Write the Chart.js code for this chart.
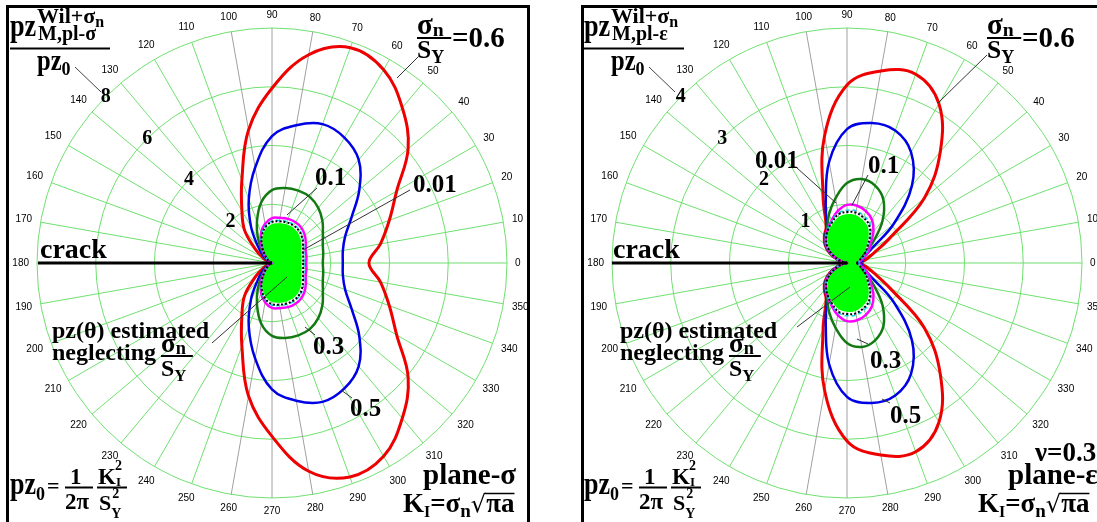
<!DOCTYPE html>
<html>
<head>
<meta charset="utf-8">
<script src="https://cdn.jsdelivr.net/npm/chart.js@4/dist/chart.umd.min.js"></script>
<style>
  html, body { margin: 0; padding: 0; background: #fff; overflow: hidden; }
  body { width: 1097px; height: 522px; position: relative; }
  .frame { position: absolute; top: 5px; height: 600px; border: 3px solid #000; box-sizing: border-box; }
  .box { position: absolute; top: 0; width: 548px; height: 522px; }
</style>
</head>
<body>
<div class="frame" style="left:6px;width:524px"></div>
<div class="frame" style="left:581px;width:600px"></div>
<div class="box" style="left:0"><canvas id="planeSigma"></canvas></div>
<div class="box" style="left:549px"><canvas id="planeEps"></canvas></div>
<script>
// polar angles (deg, counter-clockwise from the crack tip direction)
const angleTicks = [0, 10, 20, 30, 40, 50, 60, 70, 80, 90, 100, 110, 120, 130, 140, 150, 160, 170,
  180, 190, 200, 210, 220, 230, 240, 250, 260, 270, 280, 290, 300, 310, 320, 330, 340, 350];

// plane stress, pz / pz0 for sigma_n / S_Y
const sigTicks = [2, 4, 6, 8];
const sig06 = [3.3, 3.75, 4.25, 4.9, 6.05, 6.9, 7.6, 7.8, 7.2, 5.95, 4.6, 3.0, 2.05, 1.45, 0.75, 0.35, 0.15, 0.05,
  0, 0.05, 0.15, 0.35, 0.75, 1.45, 2.05, 3.0, 4.6, 5.9, 7.2, 7.75, 7.6, 6.9, 6.05, 4.9, 4.25, 3.75];
const sig05 = [2.41, 2.45, 2.65, 3.13, 3.88, 4.59, 4.93, 5.03, 4.76, 4.32, 3.3, 2.31, 1.43, 0.75, 0.41, 0.2, 0.1, 0.03,
  0, 0.03, 0.1, 0.2, 0.41, 0.75, 1.43, 2.31, 3.3, 4.3, 4.76, 5.03, 4.93, 4.59, 3.88, 3.13, 2.65, 2.45];
const sig03 = [1.73, 1.77, 1.84, 2.0, 2.24, 2.45, 2.59, 2.62, 2.59, 2.48, 2.1, 1.5, 0.95, 0.51, 0.27, 0.14, 0.07, 0.03,
  0, 0.03, 0.07, 0.14, 0.27, 0.51, 0.95, 1.5, 2.1, 2.48, 2.59, 2.62, 2.59, 2.45, 2.24, 2.0, 1.84, 1.77];
const sig01 = [1.16, 1.19, 1.22, 1.33, 1.46, 1.56, 1.6, 1.6, 1.56, 1.53, 1.36, 1.09, 0.75, 0.44, 0.24, 0.14, 0.07, 0.03,
  0, 0.03, 0.07, 0.14, 0.24, 0.44, 0.75, 1.09, 1.36, 1.53, 1.56, 1.6, 1.6, 1.56, 1.46, 1.33, 1.22, 1.19];
const sigCyan = [1.09, 1.11, 1.15, 1.25, 1.37, 1.46, 1.5, 1.5, 1.47, 1.43, 1.28, 1.03, 0.72, 0.42, 0.23, 0.13, 0.06, 0.02,
  0, 0.02, 0.06, 0.13, 0.23, 0.42, 0.72, 1.03, 1.28, 1.43, 1.47, 1.5, 1.5, 1.46, 1.37, 1.25, 1.15, 1.11];
const sig001 = [1.06, 1.08, 1.12, 1.22, 1.34, 1.43, 1.47, 1.47, 1.44, 1.4, 1.25, 1.0, 0.69, 0.4, 0.22, 0.12, 0.06, 0.02,
  0, 0.02, 0.06, 0.12, 0.22, 0.4, 0.69, 1.0, 1.25, 1.4, 1.44, 1.47, 1.47, 1.43, 1.34, 1.22, 1.12, 1.08];
const sigNeglect = [1.0, 1.02, 1.06, 1.15, 1.27, 1.36, 1.4, 1.4, 1.37, 1.33, 1.18, 0.94, 0.64, 0.37, 0.2, 0.11, 0.05, 0.02,
  0, 0.02, 0.05, 0.11, 0.2, 0.37, 0.64, 0.94, 1.18, 1.33, 1.37, 1.4, 1.4, 1.36, 1.27, 1.15, 1.06, 1.02];

// plane strain (nu = 0.3)
const epsTicks = [1, 2, 3, 4];
const eps06 = [0.25, 0.32, 0.48, 0.83, 1.72, 2.47, 3.13, 3.42, 3.32, 3.03, 2.2, 1.19, 0.71, 0.6, 0.49, 0.34, 0.17, 0.07,
  0, 0.07, 0.17, 0.34, 0.49, 0.6, 0.71, 1.19, 2.2, 3.03, 3.32, 3.42, 3.13, 2.47, 1.72, 0.83, 0.48, 0.32];
const eps05 = [0.24, 0.27, 0.32, 0.48, 1.04, 1.72, 2.18, 2.4, 2.42, 2.28, 1.75, 1.06, 0.69, 0.58, 0.48, 0.33, 0.17, 0.07,
  0, 0.07, 0.17, 0.33, 0.48, 0.58, 0.69, 1.06, 1.75, 2.28, 2.42, 2.4, 2.18, 1.72, 1.04, 0.48, 0.32, 0.27];
const eps03 = [0.2, 0.22, 0.27, 0.37, 0.6, 0.94, 1.24, 1.4, 1.45, 1.36, 1.12, 0.89, 0.68, 0.57, 0.47, 0.32, 0.17, 0.07,
  0, 0.07, 0.17, 0.32, 0.47, 0.57, 0.68, 0.89, 1.12, 1.36, 1.45, 1.4, 1.24, 0.94, 0.6, 0.37, 0.27, 0.22];
const eps01 = [0.2, 0.24, 0.32, 0.43, 0.53, 0.7, 0.85, 0.94, 0.99, 0.99, 0.9, 0.77, 0.66, 0.56, 0.46, 0.31, 0.16, 0.06,
  0, 0.06, 0.16, 0.31, 0.46, 0.56, 0.66, 0.77, 0.9, 0.99, 0.99, 0.94, 0.85, 0.7, 0.53, 0.43, 0.32, 0.24];
const epsCyan = [0.19, 0.22, 0.29, 0.39, 0.49, 0.64, 0.78, 0.85, 0.9, 0.9, 0.86, 0.76, 0.66, 0.56, 0.45, 0.3, 0.16, 0.06,
  0, 0.06, 0.16, 0.3, 0.45, 0.56, 0.66, 0.76, 0.86, 0.9, 0.9, 0.85, 0.78, 0.64, 0.49, 0.39, 0.29, 0.22];
const eps001 = [0.17, 0.2, 0.27, 0.36, 0.46, 0.61, 0.75, 0.82, 0.87, 0.87, 0.84, 0.74, 0.65, 0.55, 0.44, 0.29, 0.15, 0.06,
  0, 0.06, 0.15, 0.29, 0.44, 0.55, 0.65, 0.74, 0.84, 0.87, 0.87, 0.82, 0.75, 0.61, 0.46, 0.36, 0.27, 0.2];
const epsNeglect = [0.15, 0.18, 0.24, 0.33, 0.43, 0.57, 0.71, 0.78, 0.83, 0.83, 0.8, 0.71, 0.63, 0.52, 0.41, 0.27, 0.14, 0.05,
  0, 0.05, 0.14, 0.27, 0.41, 0.52, 0.63, 0.71, 0.8, 0.83, 0.83, 0.78, 0.71, 0.57, 0.43, 0.33, 0.24, 0.18];

const SERIF = '"Liberation Serif", "DejaVu Serif", serif';
const SANS = '"Liberation Sans", Arial, sans-serif';
const GRID = '#6fe06f';
const GREY = '#a0a0a0';

// radar runs clockwise, the plot runs counter-clockwise
const cw = arr => arr.map((_, k) => arr[(arr.length - k) % arr.length]);

function put(ctx, s, x, y, size, o = {}) {
  ctx.save();
  ctx.font = `${o.normal ? '' : 'bold '}${size}px ${o.family || SERIF}`;
  ctx.textAlign = 'left';
  ctx.textBaseline = 'alphabetic';
  ctx.fillStyle = '#000';
  ctx.translate(x, y);
  if (o.sx) ctx.scale(o.sx, 1);
  ctx.fillText(s, 0, 0);
  const w = ctx.measureText(s).width * (o.sx || 1);
  ctx.restore();
  return x + w;
}

function rule(ctx, x1, y1, x2, y2, w, c) {
  ctx.save();
  ctx.beginPath();
  ctx.lineWidth = w;
  ctx.strokeStyle = c || '#000';
  ctx.moveTo(x1, y1);
  ctx.lineTo(x2, y2);
  ctx.stroke();
  ctx.restore();
}

// sigma_n / S_Y stacked fraction
function ratio(ctx, x, y, big) {
  let e = put(ctx, 'σ', x, y, big);
  put(ctx, 'n', e, y + 2, big * 0.68);
  rule(ctx, x, y + 4, x + big * 1.18, y + 4, 2);
  e = put(ctx, 'S', x, y + 24, big * 0.88);
  put(ctx, 'Y', e, y + 29, big * 0.62);
}

function panelText(ctx, eps) {
  const tx = eps ? 574 : 0;
  // axis title
  let x = put(ctx, 'pz', 10 + tx, 36, 32, { sx: 0.82 });
  x = put(ctx, 'Wil+σ', 37 + tx, 23, 22);
  put(ctx, 'n', x, 27, 16);
  put(ctx, eps ? 'M,pl-ε' : 'M,pl-σ', 38 + tx, 40, 20);
  rule(ctx, 10 + tx, 48.5, 110 + tx, 48.5, 2);
  x = put(ctx, 'pz', 37 + tx, 70, 30, { sx: 0.82 });
  put(ctx, '0', x, 75, 18);
  rule(ctx, 75 + tx, 67, 101 + tx, 92, 1, '#444');

  // pz0 definition
  x = put(ctx, 'pz', 10 + tx, 494, 31, { sx: 0.84 });
  x = put(ctx, '0', x, 500, 18);
  put(ctx, '=', x + 2, 493, 22);
  put(ctx, '1', 70 + tx, 484, 23);
  rule(ctx, 65 + tx, 487.5, 93 + tx, 487.5, 2);
  put(ctx, '2π', 65 + tx, 509, 23);
  x = put(ctx, 'K', 98 + tx, 484, 23);
  put(ctx, 'I', x, 486, 13);
  put(ctx, '2', x - 1, 470, 14);
  rule(ctx, 97 + tx, 487.5, 127 + tx, 487.5, 2);
  x = put(ctx, 'S', 99 + tx, 510, 22);
  put(ctx, 'Y', x, 518, 14);
  put(ctx, '2', x + 1, 498, 14);

  // sigma_n/S_Y = 0.6
  const rx = eps ? 987 : 417;
  ratio(ctx, rx, 34, 29);
  put(ctx, '=0.6', rx + 35, 47, 29);

  // crack
  put(ctx, 'crack', eps ? 613 : 40, 258, 28);

  // neglecting label
  const nx = eps ? 620 : 52;
  put(ctx, 'pz(θ) estimated', nx, 338, 24);
  x = put(ctx, 'neglecting', nx, 360, 24);
  ratio(ctx, x + 5, 352, 27);

  // load case
  const bx = eps ? 978 : 403;
  if (eps) put(ctx, 'ν=0.3', 1035, 461, 27);
  put(ctx, eps ? 'plane-ε' : 'plane-σ', eps ? 1008 : 423, 484, 29);
  x = put(ctx, 'K', bx, 512, 27);
  x = put(ctx, 'I', x, 517, 16);
  x = put(ctx, '=σ', x, 512, 27);
  x = put(ctx, 'n', x, 517, 19);
  x = put(ctx, '√', x, 512, 24, { normal: true, family: '"DejaVu Sans", sans-serif' });
  const e = put(ctx, 'πa', x, 512, 27);
  rule(ctx, x - 1, 493.5, e, 493.5, 1.5);

  // curve tags and leaders
  const tags = eps ? [
    ['0.01', 755, 168, 797, 168, 836, 203],
    ['0.1', 868, 173, 868, 175, 852, 205],
    ['0.3', 870, 368, 868, 344, 857, 339],
    ['0.5', 890, 423, 890, 403, 882, 399],
    [null, 0, 0, 987, 55, 938, 103],
    [null, 0, 0, 797, 327, 850, 287]
  ] : [
    ['0.01', 413, 192, 410, 190, 303, 250],
    ['0.1', 315, 185, 317, 188, 287, 215],
    ['0.3', 313, 354, 315, 335, 305, 327],
    ['0.5', 350, 416, 352, 398, 341, 390],
    [null, 0, 0, 418, 57, 397, 78],
    [null, 0, 0, 212, 343, 287, 277]
  ];
  tags.forEach(([s, lx, ly, x1, y1, x2, y2]) => {
    rule(ctx, x1, y1, x2, y2, 1, '#333');
    if (s) put(ctx, s, lx, ly, 25);
  });
}

function decor(ox, eps, tickVals) {
  return {
    id: 'decor',
    afterDraw(chart) {
      const ctx = chart.ctx;
      const s = chart.scales.r;
      ctx.save();
      // angle labels around the rim
      ctx.font = `10px ${SANS}`;
      ctx.fillStyle = '#000';
      ctx.textAlign = 'center';
      ctx.textBaseline = 'middle';
      chart.data.labels.forEach((lab, k) => {
        const a = Number(lab) * Math.PI / 180;
        const w = ctx.measureText(lab).width;
        const d = s.drawingArea + 8 + Math.abs(Math.cos(a)) * w / 2 + Math.abs(Math.sin(a)) * 5;
        const p = s.getPointPosition(k, d);
        ctx.fillText(lab, p.x, p.y);
      });
      // radial values along the 135 deg ray
      ctx.font = `bold 20px ${SERIF}`;
      tickVals.forEach(v => {
        const d = s.getDistanceFromCenterForValue(v);
        ctx.fillText(String(v), s.xCenter - d * Math.SQRT1_2, s.yCenter - d * Math.SQRT1_2);
      });
      // the crack
      rule(ctx, (eps ? 612 : 38) - ox, s.yCenter, s.xCenter, s.yCenter, 3);
      ctx.translate(-ox, 0);
      panelText(ctx, eps);
      ctx.restore();
    }
  };
}

function curve(data, color, width, dash) {
  return {
    data: cw(data),
    borderColor: color,
    borderWidth: width,
    borderDash: dash || [],
    backgroundColor: 'transparent',
    fill: false,
    pointRadius: 0,
    tension: 0.38
  };
}

function polarChart(id, ox, eps, max, step, tickVals, series, padding) {
  const [s06, s05, s03, s01, sCyan, s001, sNeg] = series;
  const base = curve(sNeg, '#00ff00', 0);
  base.fill = true;
  base.backgroundColor = '#00ff00';
  return new Chart(document.getElementById(id), {
    type: 'radar',
    data: {
      labels: cw(angleTicks).map(String),
      datasets: [
        curve(s001, '#000', 2, [2, 2]),
        curve(sCyan, '#00d8e8', 1.5, [4, 3]),
        curve(s01, '#ff00ff', 2.5),
        curve(s03, '#137a13', 2.5),
        curve(s05, '#0000e6', 2.5),
        curve(s06, '#ee0000', 3),
        base
      ]
    },
    options: {
      responsive: true,
      maintainAspectRatio: false,
      animation: false,
      layout: { padding },
      plugins: { legend: { display: false }, tooltip: { enabled: false } },
      scales: {
        r: {
          min: 0,
          max: max,
          startAngle: 90,
          ticks: { display: false, stepSize: step },
          pointLabels: { display: false },
          grid: { circular: true, color: GRID, lineWidth: 1 },
          angleLines: {
            display: true,
            lineWidth: 1,
            color: (c) => [80, 90, 100, 260, 270, 280].includes(Number(c.label)) ? GREY : GRID
          }
        }
      }
    },
    plugins: [decor(ox, eps, tickVals)]
  });
}

polarChart('planeSigma', 0, false, 8, 2, sigTicks,
  [sig06, sig05, sig03, sig01, sigCyan, sig001, sigNeglect],
  { left: 37, top: 28, right: 41, bottom: 24 });
polarChart('planeEps', 549, true, 4, 1, epsTicks,
  [eps06, eps05, eps03, eps01, epsCyan, eps001, epsNeglect],
  { left: 63, top: 28, right: 15, bottom: 24 });
</script>
</body>
</html>
